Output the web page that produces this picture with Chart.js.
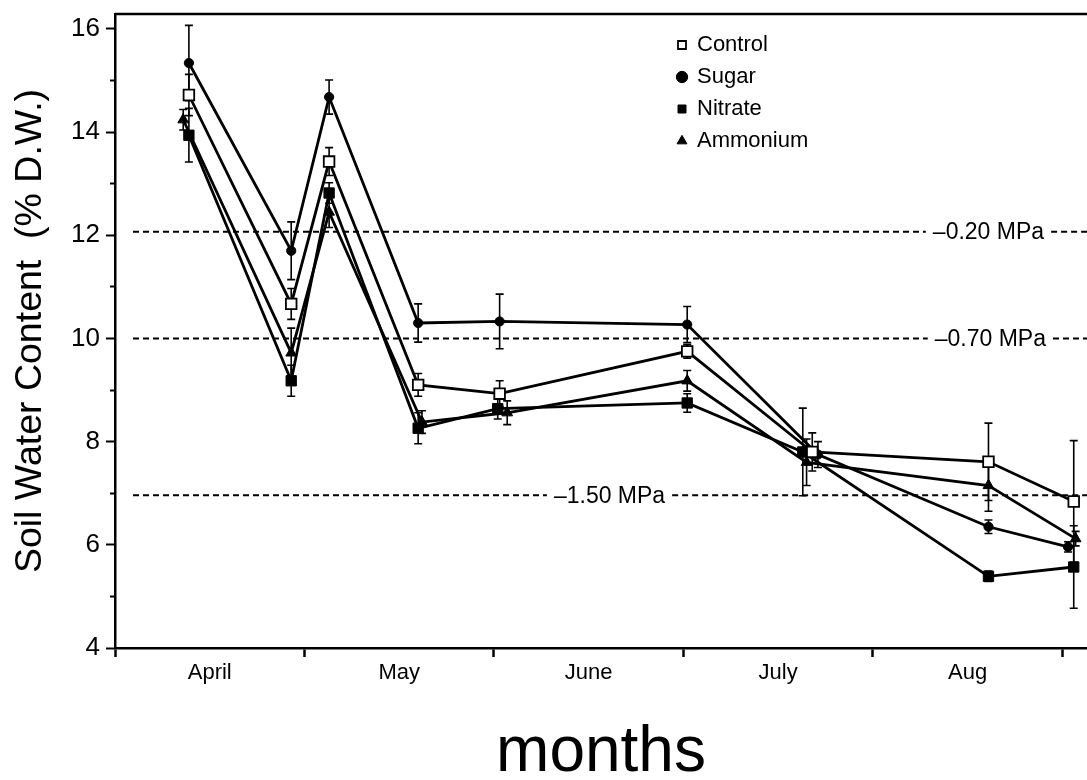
<!DOCTYPE html>
<html>
<head>
<meta charset="utf-8">
<title>Soil Water Content</title>
<script src="https://cdn.jsdelivr.net/npm/chart.js@4.4.1/dist/chart.umd.min.js"></script>
<style>
  html, body { margin: 0; padding: 0; background: #fff; }
  canvas { display: block; }
</style>
</head>
<body>
<canvas id="graficoUmidade" width="1087" height="780"></canvas>
<script>
// months on the x axis (one unit = one month, April starts at 0)
const monthLabels = ['April', 'May', 'June', 'July', 'Aug'];

// Control (open square)
const controlX = [0.39, 0.93, 1.13, 1.60, 2.03, 3.02, 3.68, 4.61, 5.06];
const controlY = [14.72, 10.67, 13.43, 9.10, 8.93, 9.75, 7.80, 7.61, 6.84];
const controlErr = [0.40, 0.30, 0.27, 0.22, 0.25, 0.13, 0.37, 0.75, 1.18];

// Sugar (filled circle)
const sugarX = [0.39, 0.93, 1.13, 1.60, 2.03, 3.02, 3.71, 4.61, 5.03];
const sugarY = [15.34, 11.70, 14.68, 10.30, 10.33, 10.27, 7.75, 6.35, 5.96];
const sugarErr = [0.73, 0.56, 0.33, 0.37, 0.53, 0.35, 0.25, 0.13, 0.10];

// Nitrate (filled square)
const nitrateX = [0.39, 0.93, 1.13, 1.60, 2.02, 3.02, 3.63, 4.61, 5.06];
const nitrateY = [13.94, 9.18, 12.82, 8.26, 8.64, 8.75, 7.80, 5.39, 5.57];
const nitrateErr = [0.52, 0.30, 0.20, 0.30, 0.20, 0.18, 0.85, 0.10, 0.80];

// Ammonium (filled triangle)
const ammoniumX = [0.36, 0.93, 1.13, 1.62, 2.07, 3.02, 3.65, 4.61, 5.07];
const ammoniumY = [14.24, 9.72, 12.45, 8.38, 8.56, 9.18, 7.60, 7.15, 6.12];
const ammoniumErr = [0.20, 0.48, 0.30, 0.22, 0.23, 0.20, 0.45, 0.50, 0.14];

// water potential reference levels
const refLevels = [12.07, 10.0, 6.96];
const refLabels = ['\u20130.20 MPa', '\u20130.70 MPa', '\u20131.50 MPa'];
const refLabelX = [4.61, 4.62, 2.61];

const yTicks = [4, 5, 6, 7, 8, 9, 10, 11, 12, 13, 14, 15, 16];

const fonte = '"Liberation Sans", Arial, Helvetica, sans-serif';

function pontos(xs, ys) {
  return xs.map((x, i) => ({ x: x, y: ys[i] }));
}

// error bars, drawn under the markers
const barrasErro = {
  id: 'barrasErro',
  beforeDatasetsDraw(chart) {
    const c = chart.ctx;
    const xs = chart.scales.x;
    const ys = chart.scales.y;
    c.save();
    c.strokeStyle = '#000';
    c.lineWidth = 1.6;
    chart.data.datasets.forEach(ds => {
      if (!ds.erros) return;
      ds.data.forEach((p, i) => {
        const e = ds.erros[i];
        if (!e) return;
        const px = xs.getPixelForValue(p.x);
        const top = ys.getPixelForValue(p.y + e);
        const bot = ys.getPixelForValue(p.y - e);
        c.beginPath();
        c.moveTo(px, top); c.lineTo(px, bot);
        c.moveTo(px - 4, top); c.lineTo(px + 4, top);
        c.moveTo(px - 4, bot); c.lineTo(px + 4, bot);
        c.stroke();
      });
    });
    c.restore();
  }
};

// dashed MPa lines + top frame
const linhasMPa = {
  id: 'linhasMPa',
  beforeDatasetsDraw(chart) {
    const c = chart.ctx;
    const area = chart.chartArea;
    const xs = chart.scales.x;
    const ys = chart.scales.y;
    c.save();
    c.font = '23px ' + fonte;
    c.textAlign = 'center';
    c.textBaseline = 'middle';
    c.fillStyle = '#000';
    c.strokeStyle = '#000';
    c.lineWidth = 2;
    c.setLineDash([6, 4]);
    refLevels.forEach((lvl, i) => {
      const py = ys.getPixelForValue(lvl);
      const tx = xs.getPixelForValue(refLabelX[i]);
      const half = c.measureText(refLabels[i]).width / 2 + 7;
      c.beginPath();
      c.moveTo(xs.getPixelForValue(0.095), py);
      c.lineTo(tx - half, py);
      c.moveTo(tx + half, py);
      c.lineTo(area.right, py);
      c.stroke();
      c.fillText(refLabels[i], tx, py + 1);
    });
    c.setLineDash([]);
    c.lineWidth = 2.5;
    c.beginPath();
    c.moveTo(area.left, area.top);
    c.lineTo(area.right, area.top);
    c.stroke();
    c.restore();
  }
};

// put the legend inside the plot, top right
const legendaDentro = {
  id: 'legendaDentro',
  afterLayout(chart) {
    const lg = chart.legend;
    if (!lg) return;
    lg.left = 668;
    lg.top = 24;
    lg.right = lg.left + lg.width;
    lg.bottom = lg.top + lg.height;
  }
};

function serie(label, xs, ys, errs, style, radius, fill, bw) {
  return {
    label: label,
    data: pontos(xs, ys),
    erros: errs,
    borderColor: '#000',
    borderWidth: 2.8,
    pointStyle: style,
    pointRadius: radius,
    pointHoverRadius: radius,
    pointBackgroundColor: fill,
    pointBorderColor: '#000',
    pointBorderWidth: bw,
    tension: 0,
    fill: false,
    clip: false
  };
}

const ctx = document.getElementById('graficoUmidade').getContext('2d');

new Chart(ctx, {
  type: 'line',
  data: {
    datasets: [
      serie('Control', controlX, controlY, controlErr, 'rect', 7.5, '#fff', 1.8),
      serie('Sugar', sugarX, sugarY, sugarErr, 'circle', 4.6, '#000', 1),
      serie('Nitrate', nitrateX, nitrateY, nitrateErr, 'rect', 7.3, '#000', 1),
      serie('Ammonium', ammoniumX, ammoniumY, ammoniumErr, 'triangle', 6.2, '#000', 1)
    ]
  },
  plugins: [barrasErro, linhasMPa, legendaDentro],
  options: {
    responsive: false,
    animation: false,
    devicePixelRatio: 1,
    layout: { autoPadding: false, padding: { top: 14, left: 0, right: 0, bottom: 0 } },
    plugins: {
      tooltip: { enabled: false },
      legend: {
        position: 'chartArea',
        align: 'start',
        labels: {
          usePointStyle: true,
          boxWidth: 8,
          boxHeight: 8,
          padding: 10,
          color: '#000',
          font: { family: fonte, size: 22 }
        }
      }
    },
    scales: {
      x: {
        type: 'linear',
        min: 0,
        max: 5.13,
        afterBuildTicks: scale => {
          const t = [];
          for (let v = 0; v <= 5; v += 0.5) t.push({ value: v });
          scale.ticks = t;
        },
        afterFit: scale => {
          scale.height = 132;
          scale.paddingLeft = 0;
          scale.paddingRight = 0;
        },
        border: { color: '#000', width: 2.5 },
        grid: {
          drawOnChartArea: false,
          drawTicks: true,
          tickLength: 9,
          tickWidth: 2.5,
          tickColor: c => (c.tick && c.tick.value % 1 === 0 ? '#000' : 'rgba(0,0,0,0)')
        },
        ticks: {
          autoSkip: false,
          maxRotation: 0,
          padding: 3,
          color: '#000',
          font: { family: fonte, size: 22 },
          callback: v => (v % 1 !== 0 ? monthLabels[Math.floor(v)] : '')
        },
        title: {
          display: true,
          text: 'months',
          color: '#000',
          font: { family: fonte, size: 64, lineHeight: 0.8 },
          padding: { top: 0, bottom: 1 }
        }
      },
      y: {
        min: 4,
        max: 16.29,
        afterBuildTicks: scale => {
          scale.ticks = yTicks.map(v => ({ value: v }));
        },
        afterFit: scale => {
          scale.width = 115;
          scale.paddingTop = 0;
          scale.paddingBottom = 0;
        },
        border: { color: '#000', width: 2.5 },
        grid: {
          drawOnChartArea: false,
          drawTicks: true,
          tickLength: 9,
          tickWidth: 2,
          tickColor: '#000',
          tickBorderDash: c => (c.tick && c.tick.value % 2 !== 0 ? [0, 4, 5, 100] : [])
        },
        ticks: {
          autoSkip: false,
          padding: 6,
          color: '#000',
          font: { family: fonte, size: 26 },
          callback: v => (v % 2 === 0 ? v : '')
        },
        title: {
          display: true,
          text: 'Soil Water Content  (% D.W.)',
          color: '#000',
          font: { family: fonte, size: 37.5 },
          padding: { top: 8, bottom: 0 }
        }
      }
    }
  }
});
</script>
</body>
</html>
